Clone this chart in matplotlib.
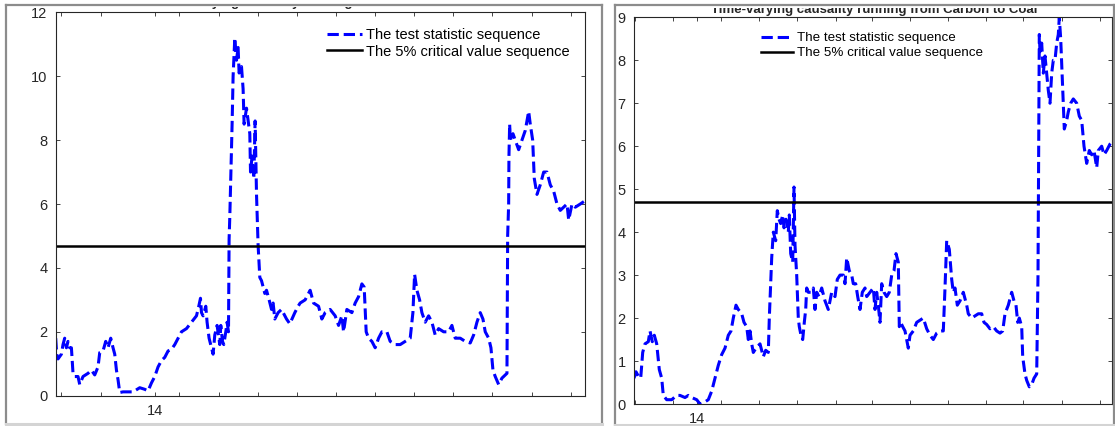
import matplotlib
matplotlib.use("Agg")
import matplotlib.pyplot as plt
from matplotlib.lines import Line2D
from matplotlib.transforms import Bbox, TransformedBbox

plt.rcParams['font.family'] = ['Liberation Sans', 'DejaVu Sans']

# Coal -> Carbon: test statistic along the sample
left_t = [0, 1, 2.3, 5.7, 7.3, 9, 10.7, 12.3, 14, 15.7, 17.3, 19, 22.3, 24, 27.3, 32.3, 35.7, 39,
          42.3, 44, 47.3, 50, 52.3, 55, 57.3, 59, 60.7, 62.3, 64, 67.3, 74, 77.3, 84, 89, 92.3,
          95.7, 99, 102.3, 105.7, 109, 112.3, 115.7, 119, 122.3, 125.7, 130.7, 135.7, 140.7, 143,
          144.7, 145.7, 147.3, 150, 151.3, 153.3, 155.7, 157.3, 159, 161.3, 164, 165, 166.7, 168,
          170, 171.3, 172.7, 173.3, 174, 176.3, 177.3, 179, 180.7, 182.3, 183.3, 185.7, 187.3,
          188.3, 190.7, 192.3, 194, 194.7, 196.3, 198, 199.3, 200.7, 202.3, 204, 205.7, 209,
          210.7, 213.3, 215.7, 217.3, 219, 222.3, 225.7, 230.7, 234, 239, 242.3, 244.3, 249.3,
          254.3, 257.7, 262.7, 266, 269.3, 274.3, 279.3, 282.7, 286, 287.7, 291, 296, 299.3,
          302.7, 306, 308.3, 310.3, 312.7, 316, 319.3, 322.7, 326, 331, 334.3, 339.3, 344.3,
          349.3, 354.3, 357, 358.7, 361, 363.7, 366, 369.3, 372.7, 376, 379.3, 382.7, 387.7,
          392.7, 396, 399.3, 404.3, 409.3, 414.3, 417.7, 421, 424.3, 427, 429.3, 432.7, 435, 437,
          439.3, 442.7, 446, 449.3, 451, 451.7, 452.7, 453, 453.7, 454.3, 457, 459.3, 462.7, 466,
          469.3, 472.7, 474.3, 476.7, 478.3, 481, 484.3, 487.7, 491, 494.3, 497.7, 501, 504.3,
          507.7, 511, 512.7, 516, 519.3, 524.3, 529]
left_stat = [1.8, 1.3, 1.15, 1.3, 1.6, 1.8, 1.5, 1.7, 1.5, 1.5, 0.7, 0.6, 0.6, 0.35, 0.6, 0.7, 0.8,
             0.65, 0.9, 1.35, 1.4, 1.7, 1.5, 1.8, 1.5, 1.3, 0.8, 0.5, 0.1, 0.12, 0.12, 0.12, 0.25,
             0.2, 0.15, 0.4, 0.6, 0.9, 1.1, 1.2, 1.4, 1.45, 1.6, 1.8, 2.0, 2.1, 2.3, 2.5, 2.8, 3.05,
             2.6, 2.5, 2.8, 2.3, 1.8, 1.5, 1.3, 1.9, 2.2, 1.6, 2.2, 1.7, 1.6, 2.0, 2.3, 2.0, 4.9,
             5.6, 8.5, 10.0, 11.2, 10.5, 10.9, 10.1, 10.3, 9.6, 8.5, 9.0, 8.6, 8.2, 7.0, 7.5, 6.8,
             8.6, 6.3, 4.7, 3.7, 3.6, 3.2, 3.3, 3.0, 2.7, 2.9, 2.4, 2.6, 2.7, 2.4, 2.25, 2.6, 2.8,
             2.9, 3.0, 3.3, 2.9, 2.8, 2.4, 2.6, 2.7, 2.5, 2.2, 2.5, 2.0, 2.7, 2.6, 2.9, 3.1, 3.5,
             3.4, 2.0, 1.8, 1.7, 1.5, 1.8, 2.0, 2.0, 1.7, 1.6, 1.6, 1.7, 1.8, 2.6, 3.8, 3.3, 3.0,
             2.6, 2.3, 2.5, 2.3, 1.9, 2.1, 2.0, 2.0, 2.2, 1.8, 1.8, 1.7, 1.65, 1.9, 2.3, 2.6, 2.4,
             2.0, 1.8, 1.5, 0.8, 0.6, 0.35, 0.55, 0.65, 0.7, 5.0, 6.0, 7.5, 8.5, 8.0, 8.2, 8.0,
             7.7, 8.0, 8.3, 8.9, 8.5, 8.0, 6.8, 6.3, 6.6, 7.0, 7.0, 6.6, 6.4, 6.0, 5.8, 5.9, 6.0,
             5.5, 6.0, 5.9, 6.0, 6.1]
left_crit = 4.7

# Carbon -> Coal
right_t = [0, 2, 4.3, 6.7, 8.7, 11, 14.3, 16, 18.3, 20.3, 22.7, 25.3, 27.7, 29.3, 32.7, 37.7,
           42.7, 46, 51, 54.3, 57.7, 62.7, 66, 71, 74.3, 77.7, 81, 84.3, 87.7, 91, 94.3, 97,
           99.3, 102, 104.3, 107.7, 110, 112.7, 114.3, 116, 117.7, 119.3, 122, 126, 127.7, 129.3,
           131.7, 134.3, 135.3, 136.7, 137.7, 139.3, 141.7, 143.3, 145, 146.7, 148.7, 150, 152,
           154.3, 155.3, 156.7, 158.7, 160, 161, 162.7, 164.3, 165.3, 167, 168.7, 170.3, 171.7,
           172.7, 174.3, 176.7, 179.3, 181, 182.7, 185, 187.7, 191, 194.3, 197.7, 201, 203.3,
           206, 209.3, 211, 212.7, 215.3, 217.7, 219.3, 221.7, 223.7, 226, 228.3, 231, 232.7,
           236, 239.3, 241, 242.7, 244.3, 246, 247.7, 250, 252.7, 255.3, 257.7, 260, 262, 264.3,
           265.3, 266.7, 268.7, 271, 274.3, 276, 279.3, 282.7, 286, 289.3, 292.7, 296, 299.3,
           302.7, 306, 309.3, 311, 312.7, 315.3, 317.7, 319.3, 321, 323.3, 326, 329.3, 332.7,
           334.3, 337.7, 341, 344.3, 347.7, 350, 352.7, 356, 359.3, 362.7, 366, 368.7, 371,
           374.3, 377.7, 380, 382, 383.7, 385.3, 387.7, 388.7, 391, 392.7, 395.3, 397.7, 400,
           402.7, 404, 404.7, 405.3, 406, 407.7, 409.3, 411, 412.7, 414.3, 416, 417.7, 419.3, 421,
           422.7, 424.3, 425.3, 426.7, 427.7, 429.3, 430.3, 432.7, 434.3, 436.7, 439.3, 442.7,
           445.3, 447.7, 450, 452.7, 455.3, 457.7, 460, 462.7, 464.3, 467.7, 470, 472.7, 476, 478]
right_stat = [0.6, 0.75, 0.65, 0.6, 1.2, 1.4, 1.45, 1.7, 1.45, 1.6, 1.4, 0.8, 0.6, 0.2, 0.1, 0.1,
              0.2, 0.2, 0.15, 0.2, 0.15, 0.1, 0.0, 0.05, 0.1, 0.3, 0.6, 0.9, 1.15, 1.3, 1.6, 1.7,
              2.0, 2.3, 2.2, 2.1, 1.9, 1.8, 1.5, 1.7, 1.4, 1.2, 1.3, 1.4, 1.25, 1.1, 1.25, 1.2,
              2.0, 2.8, 3.4, 4.0, 3.8, 4.5, 4.3, 4.2, 4.4, 4.1, 4.3, 4.0, 4.4, 3.5, 3.3, 5.05, 3.7,
              3.0, 2.0, 1.8, 1.6, 1.5, 1.9, 2.2, 2.7, 2.6, 2.6, 2.7, 2.2, 2.6, 2.5, 2.7, 2.4, 2.2,
              2.6, 2.5, 2.9, 3.0, 3.0, 2.8, 3.4, 3.1, 3.0, 2.8, 2.8, 2.5, 2.2, 2.6, 2.7, 2.5, 2.6,
              2.7, 2.2, 2.6, 2.3, 1.9, 2.8, 2.6, 2.5, 2.6, 3.0, 3.1, 3.5, 3.3, 1.8, 1.9, 1.8, 1.7,
              1.3, 1.6, 1.7, 1.9, 1.95, 2.0, 1.75, 1.6, 1.5, 1.65, 1.7, 1.7, 2.7, 3.8, 3.6, 2.9,
              2.6, 2.7, 2.3, 2.4, 2.6, 2.3, 2.1, 2.0, 2.05, 2.1, 2.1, 1.9, 1.85, 1.75, 1.8, 1.7,
              1.65, 1.7, 2.1, 2.3, 2.6, 2.4, 2.3, 1.9, 2.0, 1.8, 1.1, 0.7, 0.55, 0.4, 0.45, 0.6,
              0.7, 3.0, 6.0, 8.6, 8.2, 8.4, 7.7, 8.1, 7.7, 7.3, 7.0, 7.7, 8.0, 8.0, 8.4, 8.6, 9.0,
              8.5, 7.9, 6.9, 6.4, 6.6, 6.8, 7.0, 7.1, 7.0, 6.7, 6.6, 6.0, 5.6, 5.9, 5.8, 5.9, 5.5,
              5.9, 6.0, 5.8, 5.9, 6.05, 6.1]
right_crit = 4.7

# date ticks: only the 2014 one carries a label
left_xticks = [5.3, 45, 99.3, 123.3, 163.3, 202.3, 241.3, 280.3, 319.3, 358.3, 397.3, 436.3,
               476.3, 515.3]
right_xticks = [1, 39.3, 63.3, 86.7, 125, 163.3, 201.7, 237.7, 276, 313.7, 351.7, 389.3,
                427.7, 466]
xtick_labels = ['', '', '14', '', '', '', '', '', '', '', '', '', '', '']

W, H = 1115, 426
fig = plt.figure(figsize=(W / 100, H / 100), dpi=100)


def box(x0, y0, x1, y1):
    # screen-style pixel box (origin top-left) -> figure fraction rect
    return [x0 / W, 1 - y1 / H, (x1 - x0) / W, (y1 - y0) / H]


def draw_panel(rect, t, stat, crit, ymax, xticks, legend_xy, fs_leg):
    ax = fig.add_axes(rect)
    ax.plot(t, stat, '--', color='#0000ff', lw=2.2, label='The test statistic sequence')
    ax.plot([t[0], t[-1]], [crit, crit], '-', color='black', lw=1.8,
            label='The 5% critical value sequence')
    ax.set_xlim(t[0], t[-1])
    ax.set_ylim(0, ymax)
    ax.set_xticks(xticks)
    ax.set_xticklabels(xtick_labels)
    ax.set_yticks(range(0, ymax + 1, 2 if ymax > 10 else 1))
    ax.tick_params(direction='in', length=3, width=0.6, top=True, right=True,
                   labelsize=10.5, colors='#262626', pad=6)
    for s in ax.spines.values():
        s.set_color('#262626')
        s.set_linewidth(0.8)
    ax.legend(loc='upper left', bbox_to_anchor=legend_xy, frameon=False,
              fontsize=fs_leg, handlelength=2.4, handletextpad=0.3, borderpad=0,
              borderaxespad=0, labelspacing=0.2)
    return ax


draw_panel(box(55.7, 12.3, 585, 395.7), left_t, left_stat, left_crit, 12, left_xticks,
           (0.512, 0.96), 10.5)
draw_panel(box(634, 17.3, 1112, 404), right_t, right_stat, right_crit, 9, right_xticks,
           (0.266, 0.962), 9.6)

# titles sit partly under the window edges
titles = [(320, 6.0, 'Time-varying causality running from Coal to Carbon', 6.5),
          (874, 13.5, 'Time-varying causality running from Carbon to Coal', 7.5)]
for cx, base, text, clip_top in titles:
    tt = fig.text(cx / W, 1 - base / H, text, ha='center', va='baseline',
                  fontsize=9.5, fontweight='bold', color='#262626')
    clip = Bbox.from_extents(0, 0, 1, 1 - clip_top / H)
    tt.set_clip_box(TransformedBbox(clip, fig.transFigure))
    tt.set_clip_on(True)


def edge(x0, y0, x1, y1, color, lw=1.6):
    fig.add_artist(Line2D([x0 / W, x1 / W], [1 - y0 / H, 1 - y1 / H],
                          transform=fig.transFigure, color=color, lw=lw, zorder=20))


# window frames
for x0, x1, yb in [(6, 602, 424), (615, 1114, 425)]:
    edge(x0, 5, x1, 5, '#8c8c8c')
    edge(x0, 5, x0, yb, '#8c8c8c')
    edge(x1, 5, x1, yb, '#8c8c8c')
    edge(x0, yb, x1, yb, '#d4d4d4', lw=2.2)

fig.savefig('out.png', dpi=100)
